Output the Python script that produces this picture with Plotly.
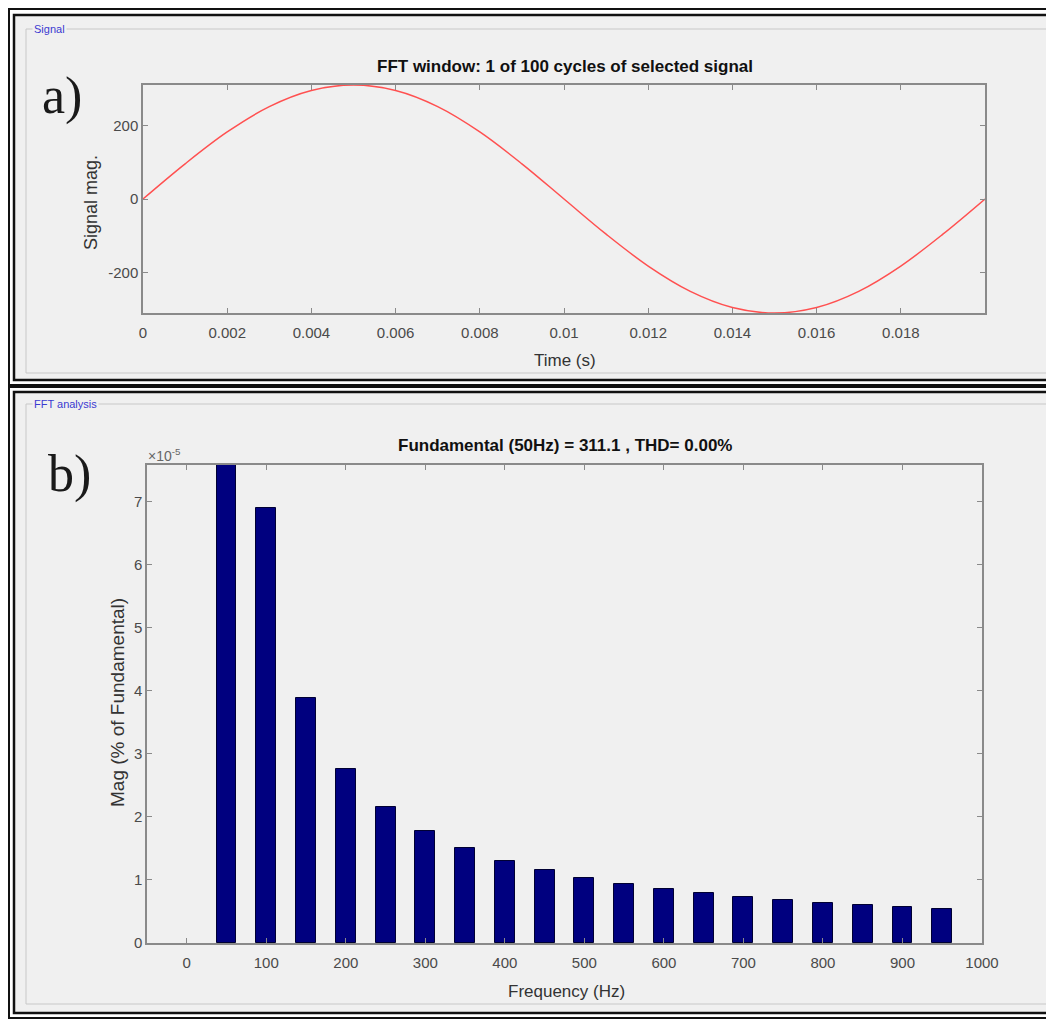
import plotly.graph_objects as go

# The page body has an 8px margin; the figure is sized to fill the rest of the window.
OFF = 8
W, H = 1054 - OFF, 1021 - OFF

# ---- data ----
time_s = [0.000, 0.001, 0.002, 0.003, 0.004, 0.005, 0.006, 0.007, 0.008, 0.009, 0.010,
          0.011, 0.012, 0.013, 0.014, 0.015, 0.016, 0.017, 0.018, 0.019, 0.020]
signal_mag = [0, 96, 183, 252, 296, 311.1, 296, 252, 183, 96, 0,
              -96, -183, -252, -296, -311.1, -296, -252, -183, -96, 0]

freq_hz = [50, 100, 150, 200, 250, 300, 350, 400, 450, 500,
           550, 600, 650, 700, 750, 800, 850, 900, 950]
mag_pct = [100, 6.90e-5, 3.88e-5, 2.76e-5, 2.15e-5, 1.77e-5, 1.51e-5, 1.30e-5, 1.16e-5, 1.03e-5,
           0.94e-5, 0.86e-5, 0.79e-5, 0.73e-5, 0.68e-5, 0.63e-5, 0.60e-5, 0.57e-5, 0.54e-5]

time_ticks = [0, 0.002, 0.004, 0.006, 0.008, 0.01, 0.012, 0.014, 0.016, 0.018]
time_ticklabels = ["0", "0.002", "0.004", "0.006", "0.008", "0.01", "0.012", "0.014", "0.016", "0.018"]
sig_ticks = [-200, 0, 200]
sig_ticklabels = ["-200", "0", "200"]
freq_ticks = [0, 100, 200, 300, 400, 500, 600, 700, 800, 900, 1000]
mag_ticks = [0, 1e-5, 2e-5, 3e-5, 4e-5, 5e-5, 6e-5, 7e-5]
mag_ticklabels = ["0", "1", "2", "3", "4", "5", "6", "7"]

FONT = "Liberation Sans, Arial, sans-serif"
SERIF = "Liberation Serif, Times New Roman, serif"
TICKC = "#4a4a4a"
AXC = "#8a8a8a"


def px_x(p):
    return (p - OFF) / W


def px_y(p):
    return 1 - (p - OFF) / H


fig = go.Figure()
fig.add_trace(go.Scatter(x=time_s, y=signal_mag, mode="lines",
                         line=dict(color="#ff5050", width=1.5, shape="spline", smoothing=1.0),
                         xaxis="x", yaxis="y", showlegend=False, hoverinfo="skip"))
fig.add_trace(go.Bar(x=freq_hz, y=mag_pct, width=25,
                     marker=dict(color="#00007f", line=dict(color="#000033", width=1)),
                     xaxis="x2", yaxis="y2", showlegend=False))

axis_common = dict(showgrid=False, zeroline=False, showline=True, linecolor=AXC, linewidth=1.5,
                   mirror="allticks", ticks="inside", ticklen=5, tickcolor=AXC, tickwidth=1,
                   tickfont=dict(family=FONT, size=15, color=TICKC), automargin=False)

shapes = []
# panel frames (double black lines, grey fill)
for (y0, y1, y0i, y1i) in [(9, 385, 15, 380), (387, 1018, 392, 1013)]:
    shapes.append(dict(type="rect", xref="paper", yref="paper", layer="below",
                       x0=px_x(9), x1=px_x(1060), y0=px_y(y0), y1=px_y(y1),
                       line=dict(color="#111", width=2), fillcolor="white"))
    shapes.append(dict(type="rect", xref="paper", yref="paper", layer="below",
                       x0=px_x(14), x1=px_x(1060), y0=px_y(y0i), y1=px_y(y1i),
                       line=dict(color="#111", width=2.5), fillcolor="#f0f0f0"))
# group boxes
for (y0, y1) in [(29, 373), (404, 1004)]:
    shapes.append(dict(type="rect", xref="paper", yref="paper", layer="below",
                       x0=px_x(26), x1=px_x(1051), y0=px_y(y0), y1=px_y(y1),
                       line=dict(color="#c8c8c8", width=1), fillcolor="rgba(0,0,0,0)"))


def ann(text, x, y, size, color="#333", family=FONT, xanchor="center", angle=0, bg=None):
    d = dict(text=text, x=px_x(x), y=px_y(y), xref="paper", yref="paper",
             xanchor=xanchor, yanchor="middle", showarrow=False, textangle=angle,
             font=dict(family=family, size=size, color=color))
    if bg:
        d["bgcolor"] = bg
    return d


annotations = [
    ann("Signal", 32, 29, 11, "#3b3bd0", xanchor="left", bg="#f0f0f0"),
    ann("FFT analysis", 32, 404, 11, "#3b3bd0", xanchor="left", bg="#f0f0f0"),
    ann("<b>FFT window: 1 of 100 cycles of selected signal</b>", 565, 66, 17, "#111"),
    ann("<b>Fundamental (50Hz) = 311.1 , THD= 0.00%</b>", 565, 446, 17, "#111"),
    ann("Time (s)", 565, 360, 17),
    ann("Frequency (Hz)", 566, 991, 17),
    ann("Signal mag.", 91, 203, 18, angle=-90),
    ann("Mag (% of Fundamental)", 117, 703, 19, angle=-90),
    ann("×10<sup>-5</sup>", 146, 455, 14, "#666", xanchor="left"),
    ann("a)", 40, 96, 52, "#1a1a1a", family=SERIF, xanchor="left"),
    ann("b)", 46, 474, 52, "#1a1a1a", family=SERIF, xanchor="left"),
]

fig.update_layout(
    width=W, height=H,
    margin=dict(l=0, r=0, t=0, b=0),
    paper_bgcolor="white", plot_bgcolor="white",
    shapes=shapes, annotations=annotations,
    bargap=0,
    xaxis=dict(domain=[px_x(143), px_x(985)], range=[0, 0.02], tickvals=time_ticks,
               ticktext=time_ticklabels, anchor="y", ticklabelstandoff=5, **axis_common),
    yaxis=dict(domain=[px_y(313), px_y(85)], range=[-311.1, 311.1], tickvals=sig_ticks,
               ticktext=sig_ticklabels, anchor="x", **axis_common),
    xaxis2=dict(domain=[px_x(147), px_x(982)], range=[-50, 1000], tickvals=freq_ticks,
                anchor="y2", ticklabelstandoff=5, **axis_common),
    yaxis2=dict(domain=[px_y(943), px_y(465)], range=[0, 7.58e-5], tickvals=mag_ticks,
                ticktext=mag_ticklabels, anchor="x2", **axis_common),
)

fig.write_html("out.html")
